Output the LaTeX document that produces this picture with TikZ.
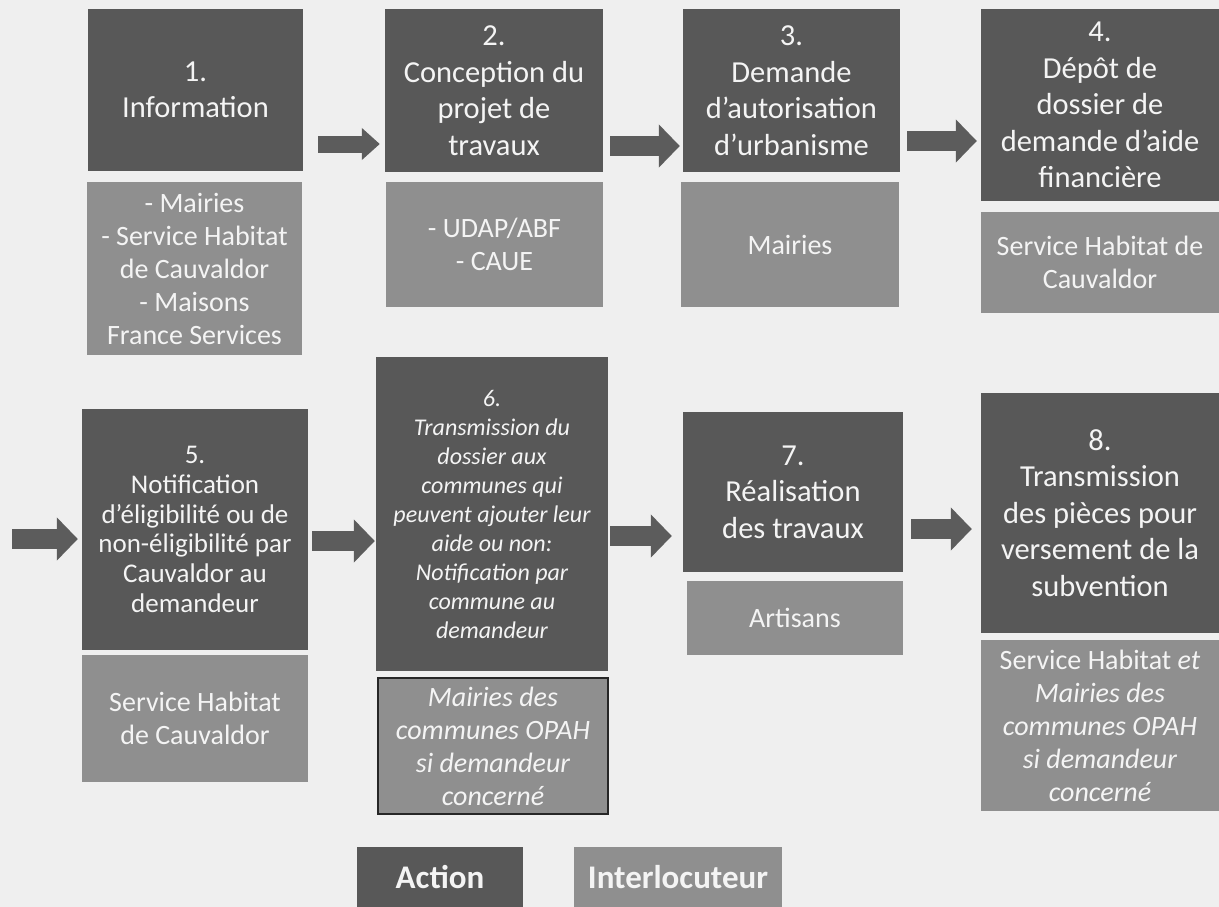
\documentclass[tikz,border=0pt]{standalone}
\usepackage{fontspec}
\setmainfont{Carlito}
\usepackage{tikz}
\usetikzlibrary{arrows.meta,positioning,calc}
\definecolor{pagegray}{HTML}{EFEFEF}
\definecolor{actgray}{HTML}{585858}
\definecolor{intgray}{HTML}{8F8F8F}
\definecolor{arrowgray}{HTML}{5C5C5C}
\definecolor{boxtext}{HTML}{F4F4F4}
\newcommand\actfont{\fontsize{30.5}{36.5}\selectfont}
\newcommand\actdense{\fontsize{27}{29.7}\selectfont}
\newcommand\actital{\fontsize{24}{29}\selectfont\itshape}
\newcommand\intfont{\fontsize{28}{33}\selectfont}
\newcommand\legfont{\fontsize{33}{36}\selectfont\bfseries}
\tikzset{
  % etapes
  act/.style={fill=actgray,text=boxtext,align=center,inner sep=0pt,font=\actfont},
  inter/.style={fill=intgray,text=boxtext,align=center,inner sep=0pt,font=\intfont},
  framed/.style={draw=black!85,line width=2pt},
  % fleches
  flow/.style={draw=arrowgray,line width=20pt,-{Triangle[length=21pt,width=42pt]}},
  flowsmall/.style={draw=arrowgray,line width=17pt,-{Triangle[length=18pt,width=31pt]}},
  % legende
  leg/.style={inner sep=0pt,text=boxtext,font=\legfont,minimum height=60pt},
}
\begin{document}
\begin{tikzpicture}[x=1pt,y=-1pt]
  \fill[pagegray] (0,0) rectangle (1219,907);
  \useasboundingbox (0,0) rectangle (1219,907);
  % ligne 1
  \node[act,minimum width=215pt,minimum height=162pt] (a1) at (195.5,90) {1.\\Information};
  \node[inter,minimum width=215pt,minimum height=173pt] (i1) at (194.5,268.5)
    {- Mairies\\- Service Habitat\\de Cauvaldor\\- Maisons\\France Services};
  \node[act,minimum width=218pt,minimum height=163pt] (a2) at (494,90.5) {2.\\Conception du\\projet de\\travaux};
  \node[inter,minimum width=217pt,minimum height=125pt] (i2) at (494.5,244.5) {- UDAP/ABF\\- CAUE};
  \node[act,minimum width=217pt,minimum height=163pt] (a3) at (791.5,90.5) {3.\\Demande\\d’autorisation\\d’urbanisme};
  \node[inter,minimum width=218pt,minimum height=125pt] (i3) at (790,244.5) {Mairies};
  \node[act,minimum width=238pt,minimum height=192pt] (a4) at (1100,105)
    {4.\\Dépôt de\\dossier de\\demande d’aide\\financière};
  \node[inter,minimum width=238pt,minimum height=101pt] (i4) at (1100,262.5) {Service Habitat de\\Cauvaldor};
  % ligne 2
  \node[act,font=\actdense,minimum width=226pt,minimum height=241pt] (a5) at (195,529.5)
    {5.\\Notification\\d’éligibilité ou de\\non-éligibilité par\\Cauvaldor au\\demandeur};
  \node[inter,minimum width=226pt,minimum height=127pt] (i5) at (195,718.5) {Service Habitat\\de Cauvaldor};
  \node[act,font=\actital,minimum width=232pt,minimum height=314pt] (a6) at (492,514)
    {6.\\Transmission du\\dossier aux\\communes qui\\peuvent ajouter leur\\aide ou non:\\Notification par\\commune au\\demandeur};
  \node[inter,framed,font=\intfont\itshape,minimum width=230pt,minimum height=136pt] (i6) at (493,746)
    {Mairies des\\communes OPAH\\si demandeur\\concerné};
  \node[act,minimum width=220pt,minimum height=160pt] (a7) at (793,492) {7.\\Réalisation\\des travaux};
  \node[inter,minimum width=216pt,minimum height=74pt] (i7) at (795,618) {Artisans};
  \node[act,minimum width=238pt,minimum height=240pt] (a8) at (1100,513)
    {8.\\Transmission\\des pièces pour\\versement de la\\subvention};
  \node[inter,minimum width=238pt,minimum height=171pt] (i8) at (1100,725.5)
    {Service Habitat \textit{et}\\\textit{Mairies des}\\\textit{communes OPAH}\\\textit{si demandeur}\\\textit{concerné}};
  % fleches
  \coordinate (start) at (12,539);
  \draw[flowsmall,shorten <=15pt,shorten >=5pt] (a1.east |- 0,144) -- (a2.west |- 0,144);
  \draw[flow,shorten <=7pt,shorten >=3pt] (a2.east |- 0,146) -- (a3.west |- 0,146);
  \draw[flow,shorten <=7pt,shorten >=4pt] (a3.east |- 0,141) -- (a4.west |- 0,141);
  \draw[flow,shorten >=4pt] (start) -- (a5.west |- start);
  \draw[flow,shorten <=4pt,shorten >=1pt] (a5.east |- 0,541) -- (a6.west |- 0,541);
  \draw[flow,shorten <=2pt,shorten >=11pt] (a6.east |- 0,536) -- (a7.west |- 0,536);
  \draw[flow,shorten <=8pt,shorten >=9pt] (a7.east |- 0,529) -- (a8.west |- 0,529);
  % legende
  \node[leg,fill=actgray,minimum width=166pt] (legact) at (440,877) {Action};
  \node[leg,fill=intgray,minimum width=208pt] (leginter) at (678,877) {Interlocuteur};
\end{tikzpicture}
\end{document}
